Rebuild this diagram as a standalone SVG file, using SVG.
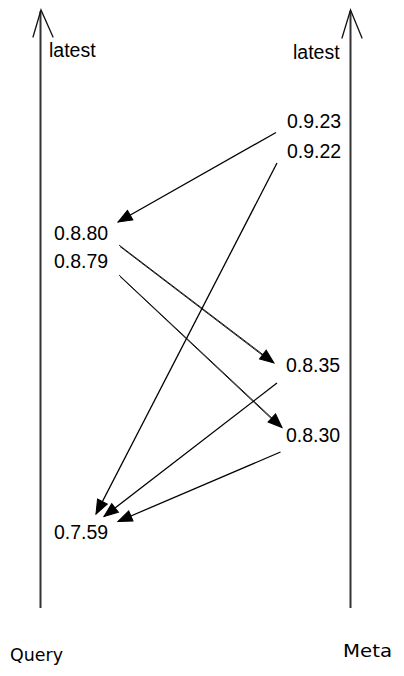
<svg xmlns="http://www.w3.org/2000/svg" width="404" height="676" viewBox="0 0 404 676">
<style>
.lbl{font-family:"Liberation Sans",Arial,sans-serif;font-size:19.5px;fill:#000}
.hand{font-family:"DejaVu Sans","Liberation Sans",sans-serif;font-size:17px;fill:#000}
.axis{stroke:#333;stroke-width:2;fill:none}
.axhead{stroke:#111;stroke-width:1.3;fill:none;stroke-linecap:round}
.conn{stroke:#000;stroke-width:1.3;fill:none}
.thin{stroke:#000;stroke-width:0.9;fill:none}
</style>
<defs>
<marker id="tri" markerUnits="userSpaceOnUse" markerWidth="18" markerHeight="14" viewBox="-16 -7 18 14" refX="0" refY="0" orient="auto">
<path d="M0,0 L-14,-5.5 L-14,5.5 Z" fill="#000" stroke="#000" stroke-width="1"/>
</marker>
</defs>
<rect width="404" height="676" fill="#fff"/>
<g id="axis-query">
<line class="axis" x1="40.5" y1="11" x2="40.5" y2="608"/>
<polyline class="axhead" points="33,37 41,10 53,37"/>
<text class="lbl" x="49" y="57">latest</text>
<text class="hand" x="10" y="661" textLength="53" lengthAdjust="spacingAndGlyphs">Query</text>
</g>
<g id="axis-meta">
<line class="axis" x1="350.5" y1="11" x2="350.5" y2="608"/>
<polyline class="axhead" points="342,38 350.5,10 362,38"/>
<text class="lbl" x="293" y="59">latest</text>
<text class="hand" x="343" y="657" textLength="49" lengthAdjust="spacingAndGlyphs">Meta</text>
</g>
<g id="v0923"><text class="lbl" x="287" y="128">0.9.23</text></g>
<g id="v0922"><text class="lbl" x="287" y="158">0.9.22</text></g>
<g id="v0880"><text class="lbl" x="54" y="240">0.8.80</text></g>
<g id="v0879"><text class="lbl" x="54" y="268">0.8.79</text></g>
<g id="v0835"><text class="lbl" x="286" y="372">0.8.35</text></g>
<g id="v0830"><text class="lbl" x="286" y="442">0.8.30</text></g>
<g id="v0759"><text class="lbl" x="54" y="539">0.7.59</text></g>
<g id="connectors">
<line class="conn" x1="276" y1="132.5" x2="118" y2="222" marker-end="url(#tri)"/>
<line class="conn" x1="277" y1="163" x2="96" y2="514" marker-end="url(#tri)"/>
<line class="thin" x1="119" y1="245" x2="274" y2="363" marker-end="url(#tri)"/>
<line class="thin" x1="120" y1="246.5" x2="268" y2="359.5"/>
<line class="thin" x1="119" y1="275" x2="282" y2="427.5" marker-end="url(#tri)"/>
<line class="thin" x1="120" y1="276.5" x2="276" y2="423"/>
<line class="conn" x1="277" y1="383" x2="104" y2="516.5" marker-end="url(#tri)"/>
<line class="conn" x1="280.5" y1="452" x2="118" y2="521.5" marker-end="url(#tri)"/>
</g>
</svg>
